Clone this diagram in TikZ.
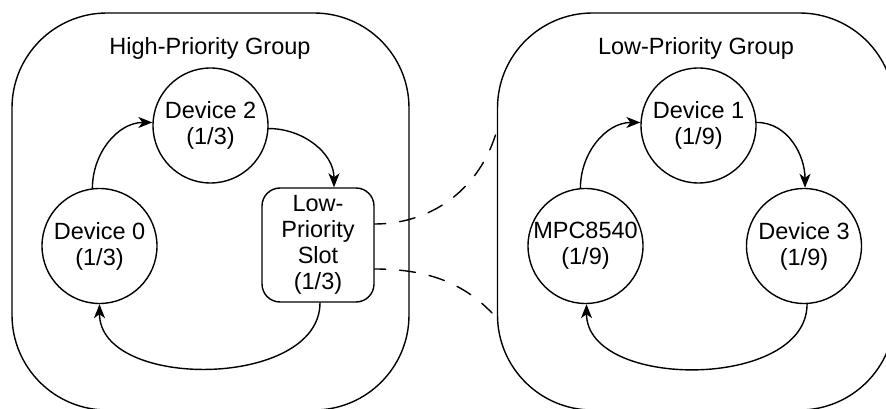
\documentclass[tikz,border=0pt]{standalone}
\usepackage{fontspec}
\setmainfont{Liberation Sans}
\usetikzlibrary{arrows.meta}

\begin{document}
\begin{tikzpicture}[x=1pt, y=1pt, line width=1.4pt, line cap=round, line join=round,
    every node/.style={font=\fontsize{23.5}{26}\selectfont, align=center},
    grp/.style={draw, rounded corners=95pt, minimum width=397pt, minimum height=397pt},
    dev/.style={draw, circle, minimum size=115pt, inner sep=0pt},
    slotbox/.style={draw, rounded corners=18pt, minimum width=112pt, minimum height=114pt, inner sep=0pt},
    flow/.style={-{Stealth[length=14pt, width=11pt, inset=4pt]}},
    link/.style={dash pattern=on 16pt off 14pt, dash phase=5pt}]

\useasboundingbox (0,0) rectangle (886,-409);

\node[grp] (hpg) at (210.5,-211.5) {};
\node[grp] (lpg) at (696,-211.5) {};
\node (hptitle) at (210,-48) {High-Priority Group};
\node (lptitle) at (696,-48) {Low-Priority Group};

\node[dev] (dev2) at (210.5,-125.5) {Device 2\\(1/3)};
\node[dev] (dev0) at (99.5,-246) {Device 0\\(1/3)};
\node[slotbox] (slot) at (318,-245) {Low-\\Priority\\Slot\\(1/3)};

\node[dev] (dev1) at (698.5,-125.5) {Device 1\\(1/9)};
\node[dev] (mpc) at (585.5,-246) {MPC8540\\(1/9)};
\node[dev] (dev3) at (804,-246) {Device 3\\(1/9)};

\draw[flow] (dev0.97) to[out=90, in=180] (dev2.177);
\draw[flow] (dev2.-3) to[out=0, in=90] ([xshift=16pt]slot.north);
\draw[flow] ([xshift=2pt]slot.south) to[out=-90, in=-90] (dev0.south);

\draw[flow] (mpc.95) to[out=90, in=180] (dev1.177);
\draw[flow] (dev1.3) to[out=0, in=90] (dev3.89);
\draw[flow] (dev3.273) to[out=-90, in=-90] (mpc.271);

\coordinate (upend) at (497,-130);
\coordinate (lowend) at (492,-313);
\draw[link] ([yshift=21pt]slot.east) .. controls +(56,0) and +(-17,-60) .. (upend);
\draw[link] ([yshift=-24pt]slot.east) .. controls +(56,0) and +(-27,28) .. (lowend);
\end{tikzpicture}
\end{document}
